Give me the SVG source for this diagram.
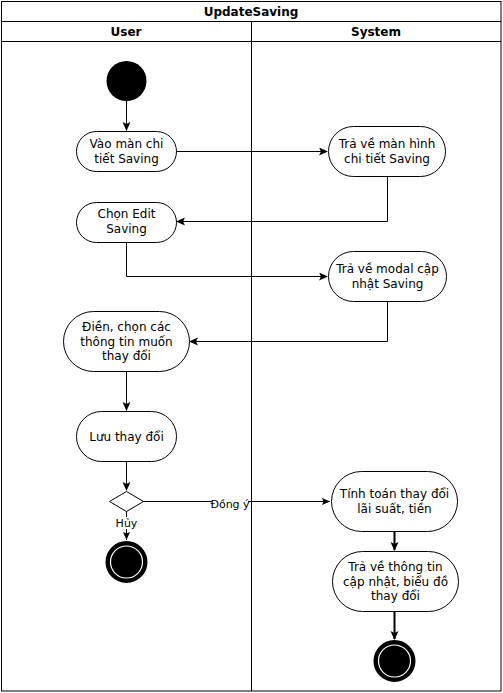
<svg xmlns="http://www.w3.org/2000/svg" width="503" height="693" viewBox="0 0 503 693">
<defs>
<style>
.lane{fill:none;stroke:#000;stroke-width:1}
.act{fill:#fff;stroke:#000;stroke-width:1}
.t{font-family:"DejaVu Sans",sans-serif;font-size:12px;fill:#000;text-anchor:middle}
.b{font-weight:bold}
.lbl{font-family:"DejaVu Sans",sans-serif;font-size:11px;fill:#000;text-anchor:middle}
.e{fill:none;stroke:#000;stroke-width:1}
.e2{fill:none;stroke:#000;stroke-width:2}
</style>
<marker id="arr" markerWidth="10" markerHeight="10" refX="8" refY="4" orient="auto" markerUnits="userSpaceOnUse">
<path d="M0,0 L9,4 L0,8 L2,4 Z" fill="#000"/>
</marker>
<marker id="arrs" markerWidth="10" markerHeight="10" refX="8" refY="3.5" orient="auto" markerUnits="userSpaceOnUse">
<path d="M0,0 L8,3.5 L0,7 L1.5,3.5 Z" fill="#000"/>
</marker>
</defs>
<rect x="0" y="0" width="503" height="693" fill="#fff"/>
<g id="pool">
<rect class="lane" x="1.5" y="1.5" width="499.5" height="689.5"/>
<line class="lane" x1="1.5" y1="21.5" x2="501" y2="21.5"/>
<line class="lane" x1="1.5" y1="41.5" x2="501" y2="41.5"/>
<line class="lane" x1="251.5" y1="21.5" x2="251.5" y2="691"/>
<text class="t b" x="251" y="16">UpdateSaving</text>
<text class="t b" x="126" y="35.5">User</text>
<text class="t b" x="376" y="35.5">System</text>
</g>
<g id="connectors">
<path class="e" d="M126.5,101 L126.5,130" marker-end="url(#arr)"/>
<path class="e" d="M176,151.5 L327,151.5" marker-end="url(#arr)"/>
<path class="e" d="M387.5,177 L387.5,221.5 L177,221.5" marker-end="url(#arr)"/>
<path class="e" d="M126.5,242 L126.5,276.5 L327,276.5" marker-end="url(#arr)"/>
<path class="e" d="M387.5,301 L387.5,341.5 L190,341.5" marker-end="url(#arr)"/>
<path class="e" d="M126.5,371 L126.5,410" marker-end="url(#arr)"/>
<path class="e" d="M126.5,461 L126.5,490" marker-end="url(#arr)"/>
<path class="e" d="M143,501.5 L330,501.5" marker-end="url(#arrs)"/>
<path class="e" d="M126.5,511 L126.5,540" marker-end="url(#arrs)"/>
<path class="e2" d="M394.5,531 L394.5,550" marker-end="url(#arr)"/>
<path class="e2" d="M394.5,611 L394.5,639" marker-end="url(#arr)"/>
<rect x="212" y="496" width="36" height="13" fill="#fff"/>
<text class="lbl" x="230" y="508">Đồng ý</text>
<rect x="115" y="517" width="23" height="12" fill="#fff"/>
<text class="lbl" x="126.5" y="527">Hủy</text>
</g>
<g id="start">
<circle cx="126.5" cy="81" r="20" fill="#000"/>
</g>
<g id="n1">
<rect class="act" x="76.5" y="131.5" width="100" height="40" rx="20"/>
<text class="t" x="126.5" y="148">Vào màn chi</text>
<text class="t" x="126.5" y="163">tiết Saving</text>
</g>
<g id="n2">
<rect class="act" x="328.5" y="126.5" width="117" height="50" rx="25"/>
<text class="t" x="387" y="148">Trả về màn hình</text>
<text class="t" x="387" y="163">chi tiết Saving</text>
</g>
<g id="n3">
<rect class="act" x="76.5" y="202.5" width="100" height="40" rx="20"/>
<text class="t" x="126.5" y="218">Chọn Edit</text>
<text class="t" x="126.5" y="233">Saving</text>
</g>
<g id="n4">
<rect class="act" x="328.5" y="251.5" width="118" height="50" rx="25"/>
<text class="t" x="387.5" y="273">Trả về modal cập</text>
<text class="t" x="387.5" y="288">nhật Saving</text>
</g>
<g id="n5">
<rect class="act" x="63.5" y="311.5" width="126" height="60" rx="30"/>
<text class="t" x="126.5" y="331">Điền, chọn các</text>
<text class="t" x="126.5" y="345.5">thông tin muốn</text>
<text class="t" x="126.5" y="360">thay đổi</text>
</g>
<g id="n6">
<rect class="act" x="76.5" y="411.5" width="100" height="50" rx="25"/>
<text class="t" x="126.5" y="440.5">Lưu thay đổi</text>
</g>
<g id="decision">
<path class="act" d="M109.5,501.5 L126.5,491.5 L143.5,501.5 L126.5,511.5 Z"/>
</g>
<g id="end1">
<circle cx="126.5" cy="562" r="20" fill="#000" stroke="#000" stroke-width="2"/>
<circle cx="126.5" cy="562" r="16" fill="#000" stroke="#fff" stroke-width="1.2"/>
</g>
<g id="n7">
<rect class="act" x="331.5" y="471.5" width="126" height="60" rx="30"/>
<text class="t" x="394.5" y="498">Tính toán thay đổi</text>
<text class="t" x="394.5" y="513">lãi suất, tiền</text>
</g>
<g id="n8">
<rect class="act" x="332.5" y="551.5" width="126" height="60" rx="30"/>
<text class="t" x="395.5" y="571">Trả về thông tin</text>
<text class="t" x="395.5" y="585.5">cập nhật, biểu đồ</text>
<text class="t" x="395.5" y="600">thay đổi</text>
</g>
<g id="end2">
<circle cx="394.5" cy="661" r="20" fill="#000" stroke="#000" stroke-width="2"/>
<circle cx="394.5" cy="661" r="16" fill="#000" stroke="#fff" stroke-width="1.2"/>
</g>
</svg>
